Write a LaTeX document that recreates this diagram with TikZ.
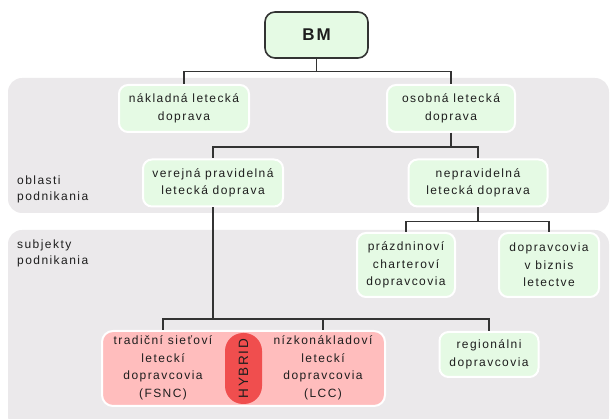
\documentclass[tikz,border=0pt]{standalone}
\usepackage{fontspec}
\setmainfont{Liberation Sans}[LetterSpace=12]
\usetikzlibrary{positioning}
\definecolor{BandGrey}{RGB}{235,233,235}
\definecolor{MintFill}{RGB}{229,250,228}
\definecolor{LineGrey}{RGB}{51,51,51}
\definecolor{InkGrey}{RGB}{30,30,30}
\definecolor{CarrierPink}{RGB}{255,189,189}
\definecolor{HybridRed}{RGB}{240,78,78}
\newcommand\chartfont{\fontsize{12}{17.5}\selectfont}
\tikzset{
  link/.style={draw=LineGrey,line width=1.3pt},
  band/.style={fill=BandGrey,rounded corners=14pt},
  bandlabel/.style={anchor=west,align=left,inner sep=0pt,text=InkGrey,
    font=\fontsize{12}{16}\selectfont},
  topbox/.style={draw=LineGrey,line width=1.6pt,fill=MintFill,rounded corners=10pt,
    minimum width=103pt,minimum height=46pt,text=InkGrey,
    font=\fontsize{17}{20}\selectfont\bfseries},
  box/.style={draw=white,line width=2pt,fill=MintFill,rounded corners=9pt,
    inner sep=0pt,align=center,text=InkGrey,font=\chartfont},
  redbox/.style={draw=white,line width=2pt,fill=CarrierPink,rounded corners=11pt,
    inner sep=0pt},
  hybridbox/.style={fill=HybridRed,rounded corners=18pt,inner sep=0pt,
    minimum width=71pt,minimum height=37pt,text=InkGrey,
    font=\fontsize{13.5}{16}\selectfont},
  plain/.style={inner sep=0pt,align=center,text=InkGrey,font=\chartfont}
}

\begin{document}
\begin{tikzpicture}[x=1pt,y=-1pt]
  \useasboundingbox (0,0) rectangle (611,419);
  % bands
  \fill[band] (8,78) rectangle (609,213);
  \fill[band] (8,230) rectangle (609,430);
  \node[bandlabel] (oblasti) at (17,189.5) {oblasti\\podnikania};
  \node[bandlabel] (subjekty) at (17,253.5) {subjekty\\podnikania};

  % top
  \node[topbox] (bm) at (316.5,35) {BM};
  \node[box,minimum width=130pt,minimum height=47pt] (naklad) at (184,108.5) {nákladná letecká\\doprava};
  \node[box,minimum width=128pt,minimum height=47pt] (osob) at (451,108.5) {osobná letecká\\doprava};

  % oblasti podnikania
  \node[box,minimum width=140pt,minimum height=47pt] (verej) at (213,183) {verejná pravidelná\\letecká doprava};
  \node[box,minimum width=139pt,minimum height=47pt] (neprav) at (478,183) {nepravidelná\\letecká doprava};

  % subjekty podnikania
  \node[box,minimum width=98pt,minimum height=64pt] (prazd) at (406,265) {prázdninoví\\charteroví\\dopravcovia};
  \node[box,minimum width=100pt,minimum height=64pt] (biznis) at (549,265) {dopravcovia\\v biznis\\letectve};
  \node[box,minimum width=99pt,minimum height=45pt] (region) at (489,354.5) {regionálni\\dopravcovia};
  \node[redbox,minimum width=283pt,minimum height=75pt] (carriers) at (243.5,368.5) {};
  \node[hybridbox,rotate=90] (hybrid) at (243.5,368.5) {HYBRID};
  \node[plain] (fsnc) at (163,368) {tradiční sieťoví\\leteckí\\dopravcovia\\(FSNC)};
  \node[plain] (lcc) at (323,368) {nízkonákladoví\\leteckí\\dopravcovia\\(LCC)};

  % connectors
  \draw[link] (bm.south) -- ++(0,13) -| (naklad.north);
  \draw[link] (bm.south) -- ++(0,13) -| (osob.north);
  \draw[link] (osob.south) -- ++(0,14) -| (verej.north);
  \draw[link] (osob.south) -- ++(0,14) -| (neprav.north);
  \draw[link] (neprav.south) -- ++(0,14) -| (prazd.north);
  \draw[link] (neprav.south) -- ++(0,14) -| (biznis.north);
  \path (verej.south) ++(0,111.5) coordinate (vbus);
  \draw[link] (verej.south) -- (vbus) -| (fsnc |- carriers.north);
  \draw[link] (vbus) -| (lcc |- carriers.north);
  \draw[link] (vbus) -| (region.north);
\end{tikzpicture}
\end{document}
